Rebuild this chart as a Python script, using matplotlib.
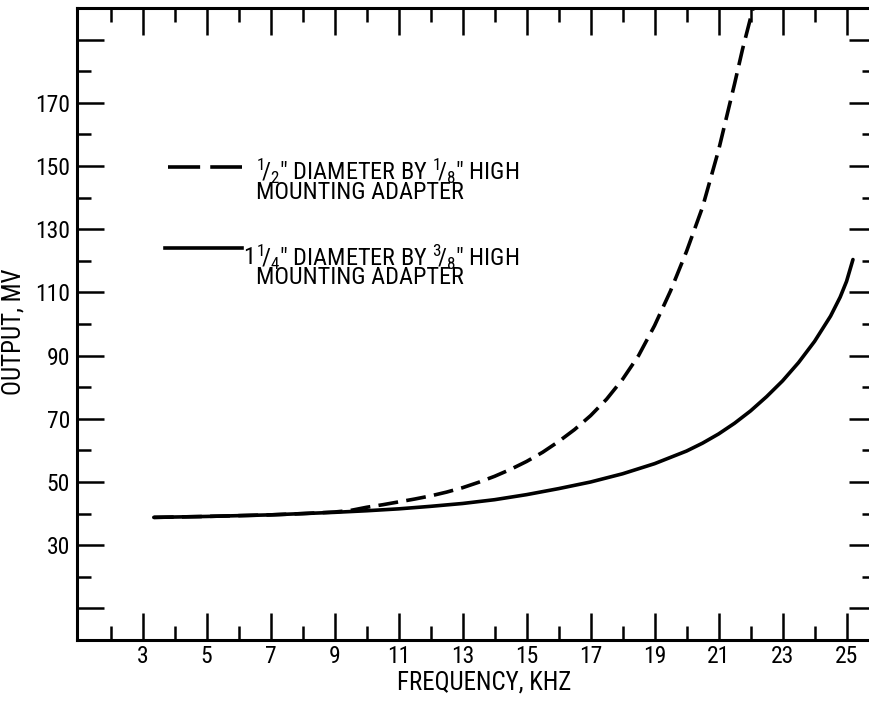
import matplotlib
matplotlib.use("Agg")
import matplotlib.pyplot as plt
from matplotlib.ticker import FixedLocator, FixedFormatter

plt.rcParams["font.family"] = ["Roboto Condensed", "PT Sans Narrow", "DejaVu Sans"]
plt.rcParams["mathtext.default"] = "regular"

# -----------------------------
# Datos: salida vs frecuencia
# -----------------------------
# adaptador 1/2" x 1/8" (linea de trazos)
freq_chico = [3.35, 5, 7, 8, 9, 9.5, 10, 10.5, 11, 11.5, 12, 12.5, 13, 13.5, 14, 14.5, 15,
              15.5, 16, 16.5, 17, 17.5, 18, 18.5, 19, 19.5, 20, 20.5, 21, 21.5, 21.75, 22.08]
salida_chico = [38.8, 39.1, 39.6, 40.0, 40.5, 41.0, 42.0, 42.8, 43.7, 44.6, 45.6, 46.8, 48.2,
                49.9, 51.8, 54.0, 56.5, 59.4, 62.8, 66.6, 71.0, 76.2, 82.5, 90.0, 99.5, 110.5,
                123.0, 137.0, 155.0, 176.0, 187.0, 200.0]

# adaptador 1 1/4" x 3/8" (linea continua)
freq_grande = [3.35, 5, 7, 8, 9, 10, 11, 12, 13, 14, 15, 16, 17, 18, 19, 20, 20.5, 21,
               21.5, 22, 22.5, 23, 23.5, 24, 24.5, 24.8, 25.0, 25.2]
salida_grande = [38.8, 39.1, 39.6, 40.0, 40.4, 40.9, 41.5, 42.3, 43.2, 44.4, 46.0, 47.9, 50.0,
                 52.6, 55.8, 59.8, 62.3, 65.2, 68.6, 72.5, 77.0, 82.0, 87.8, 94.5, 102.5,
                 108.5, 113.5, 120.4]

x_mayores = [3, 5, 7, 9, 11, 13, 15, 17, 19, 21, 23, 25]
x_menores = [2, 4, 6, 8, 10, 12, 14, 16, 18, 20, 22, 24]
y_mayores = [10, 30, 50, 70, 90, 110, 130, 150, 170, 190]
y_etiquetas = ["", "30", "50", "70", "90", "110", "130", "150", "170", ""]
y_menores = [20, 40, 60, 80, 100, 120, 140, 160, 180]

# -----------------------------
# Figura
# -----------------------------
fig = plt.figure(figsize=(8.7, 7.02), dpi=100)
ax = fig.add_axes([77 / 870, 62 / 702, 799 / 870, 632 / 702])

ax.plot(freq_grande, salida_grande, color="black", lw=2.6, solid_capstyle="round")
ax.plot(freq_chico, salida_chico, color="black", lw=2.6, dashes=(5.5, 2.3))

ax.set_xlim(0.95, 25.92)
ax.set_ylim(0, 200)

ax.xaxis.set_major_locator(FixedLocator(x_mayores))
ax.xaxis.set_minor_locator(FixedLocator(x_menores))
ax.yaxis.set_major_locator(FixedLocator(y_mayores))
ax.yaxis.set_major_formatter(FixedFormatter(y_etiquetas))
ax.yaxis.set_minor_locator(FixedLocator(y_menores))

ax.tick_params(which="both", direction="in", top=True, right=True, width=1.8,
               labelsize=17, color="black")
ax.tick_params(which="major", length=19.5)
ax.tick_params(which="minor", length=10)
ax.tick_params(axis="x", which="major", pad=3.5)
ax.tick_params(axis="y", which="major", pad=5)
for s in ax.spines.values():
    s.set_linewidth(2.2)

ax.set_xlabel("FREQUENCY, KHZ", fontsize=18)
ax.set_ylabel("OUTPUT, MV", fontsize=18)
ax.xaxis.set_label_coords(0.509, -0.048)
ax.yaxis.set_label_coords(-0.064, 0.487)


# Leyenda dibujada a mano (posiciones en pixeles de la figura)
def px(x, y):
    return (x - 77) / 799, (640 - y) / 632


ax.plot(*zip(px(168, 166.7), px(242, 166.7)), transform=ax.transAxes, color="black",
        lw=2.6, dashes=(8.9, 2.8), clip_on=False)
ax.plot(*zip(px(165, 248.3), px(242, 248.3)), transform=ax.transAxes, color="black",
        lw=2.6, clip_on=False)

# el baseline de un texto de dos lineas cae en la ultima linea
textos = [
    (256, 198.5, '$^{1}\\!/_{2}$" DIAMETER BY $^{1}\\!/_{8}$" HIGH\nMOUNTING ADAPTER'),
    (243, 263.5, "1"),
    (256, 284.5, '$^{1}\\!/_{4}$" DIAMETER BY $^{3}\\!/_{8}$" HIGH\nMOUNTING ADAPTER'),
]
for x, y, t in textos:
    ax.text(*px(x, y), t, transform=ax.transAxes, fontsize=17.5, ha="left",
            va="baseline", linespacing=0.7)

plt.savefig("out.png", dpi=100)
plt.close()
